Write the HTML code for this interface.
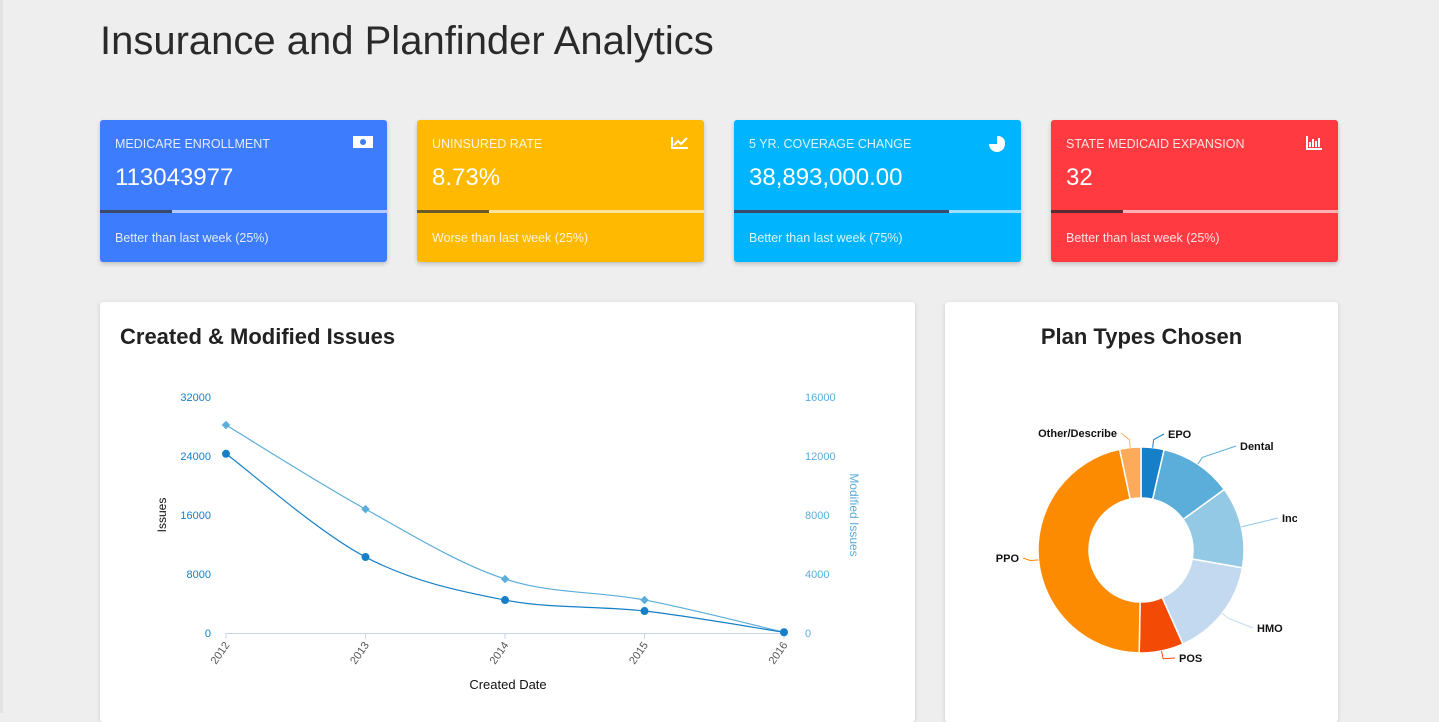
<!DOCTYPE html>
<html><head><meta charset="utf-8">
<style>
*{box-sizing:border-box;margin:0;padding:0}
body{width:1439px;height:713px;overflow:hidden;background:#eeeeee;font-family:"Liberation Sans",sans-serif;position:relative}
.sidebar{position:absolute;left:0;top:0;width:3px;height:713px;background:#e2e2e2}
h1{position:absolute;left:100px;top:19px;font-size:40px;font-weight:normal;color:#2a2a2a;letter-spacing:0px}
.card{position:absolute;top:120px;width:287px;height:142px;border-radius:3px;color:#fff;box-shadow:0 2px 4px rgba(0,0,0,.2)}
.card .lbl{position:absolute;left:15px;top:17px;font-size:12.5px;opacity:.85}
.card .val{position:absolute;left:15px;top:44px;font-size:24px}
.card .bar{position:absolute;left:0;top:90px;width:100%;height:3px;background:rgba(255,255,255,.6)}
.card .bar div{height:3px;background:#3a4a6a}
.card .foot{position:absolute;left:15px;top:111px;font-size:12.5px;opacity:.85}
.card .ic{position:absolute;right:14px;top:16px;width:20px;height:13px;font-size:11px;line-height:13px;text-align:center;color:#fff}
.panel{position:absolute;top:302px;height:420px;background:#fff;border-radius:3px;box-shadow:0 1px 4px rgba(0,0,0,.15)}
.panel h2{position:absolute;top:22px;font-size:22px;font-weight:bold;color:#222}
</style></head><body>
<div class="sidebar"></div>
<h1>Insurance and Planfinder Analytics</h1>

<div class="card" style="left:100px;background:#3d7cfd">
<div class="lbl">MEDICARE ENROLLMENT</div>
<div class="ic"><svg width="20" height="12"><rect x="0" y="0" width="20" height="12" fill="#fff"/><circle cx="10" cy="6" r="3" fill="#3d7cfd"/></svg></div>
<div class="val">113043977</div>
<div class="bar"><div style="width:25%"></div></div>
<div class="foot">Better than last week (25%)</div></div>

<div class="card" style="left:417px;background:#ffba00">
<div class="lbl">UNINSURED RATE</div>
<div class="ic"><svg width="18" height="13"><path d="M1 1V12H17M3 9L7 5L10 8L16 2" stroke="#fff" stroke-width="2" fill="none"/></svg></div>
<div class="val">8.73%</div>
<div class="bar"><div style="width:25%;background:#6b5a2a"></div></div>
<div class="foot">Worse than last week (25%)</div></div>

<div class="card" style="left:734px;background:#00b5fd">
<div class="lbl">5 YR. COVERAGE CHANGE</div>
<div class="ic"><svg width="16" height="16"><path d="M8 8V0A8 8 0 1 1 0 8Z" fill="#fff"/><path d="M9 7V0A7 7 0 0 1 16 7Z" fill="#fff"/></svg></div>
<div class="val">38,893,000.00</div>
<div class="bar"><div style="width:75%"></div></div>
<div class="foot">Better than last week (75%)</div></div>

<div class="card" style="left:1051px;background:#ff3a40">
<div class="lbl">STATE MEDICAID EXPANSION</div>
<div class="ic"><svg width="16" height="14"><path d="M1 0V13H16M4 11V6M7 11V3M10 11V5M13 11V2" stroke="#fff" stroke-width="2" fill="none"/></svg></div>
<div class="val">32</div>
<div class="bar"><div style="width:25%;background:#5a2a33"></div></div>
<div class="foot">Better than last week (25%)</div></div>

<div class="panel" style="left:100px;width:815px">
<h2 style="left:20px">Created &amp; Modified Issues</h2>
</div>
<div class="panel" style="left:945px;width:393px">
<h2 style="left:0;width:393px;text-align:center">Plan Types Chosen</h2>
</div>

<svg id="chart" width="1439" height="713" style="position:absolute;left:0;top:0"></svg>

<script>
const years=["2012","2013","2014","2015","2016"];
const issues=[24300,10300,4470,2980,100];
const modified=[14100,8400,3660,2240,50];
const leftTicks=[0,8000,16000,24000,32000];
const rightTicks=[0,4000,8000,12000,16000];
const planLabels=["EPO","Dental","Inc","HMO","POS","PPO","Other/Describe"];
const planValues=[13,41,46,56,25,167,12];
const planColors=["#1580c8","#5badda","#93c9e4","#c3d9ef","#f34a05","#fd8b02","#fdab5a"];

const NS="http://www.w3.org/2000/svg";
const svg=document.getElementById('chart');
function mk(tag,attrs,parent){const e=document.createElementNS(NS,tag);for(const k in attrs)e.setAttribute(k,attrs[k]);(parent||svg).appendChild(e);return e;}
const x0=226,x1=784,yB=633,yT=397;
const xs=i=>x0+i*(x1-x0)/(years.length-1);
const yl=v=>yB-(v/32000)*(yB-yT);
const yr=v=>yB-(v/16000)*(yB-yT);

let ax=mk('line',{x1:x0,y1:yB+0.5,x2:x1,y2:yB+0.5,stroke:'#c8d4ec','stroke-width':1});


leftTicks.forEach(v=>{let t=mk('text',{x:211,y:yl(v)+4,'text-anchor':'end','font-size':11,fill:'#1580c8','font-family':'Liberation Sans'});t.textContent=v;

});
rightTicks.forEach(v=>{let t=mk('text',{x:805,y:yr(v)+4,'font-size':11,fill:'#5badda','font-family':'Liberation Sans'});t.textContent=v;

});
years.forEach((y,i)=>{mk('line',{x1:xs(i),y1:yB,x2:xs(i),y2:yB+6,stroke:'#c8d4ec'});
let t=mk('text',{x:xs(i)+4,y:yB+12,'text-anchor':'end','font-size':11,fill:'#555','font-family':'Liberation Sans',transform:`rotate(-55 ${xs(i)+4} ${yB+12})`});t.textContent=y;

});
let xt=mk('text',{x:508,y:689,'text-anchor':'middle','font-size':13,fill:'#111','font-family':'Liberation Sans'});xt.textContent='Created Date';


let ylt=mk('text',{x:166,y:515,'text-anchor':'middle','font-size':12,fill:'#111','font-family':'Liberation Sans',transform:'rotate(-90 166 515)'});ylt.textContent='Issues';


let yrt=mk('text',{x:850,y:515,'text-anchor':'middle','font-size':12,fill:'#5badda','font-family':'Liberation Sans',transform:'rotate(90 850 515)'});yrt.textContent='Modified Issues';



function smooth(pts){let d=`M${pts[0][0]},${pts[0][1]}`;for(let i=0;i<pts.length-1;i++){const p0=pts[i-1]||pts[i],p1=pts[i],p2=pts[i+1],p3=pts[i+2]||p2;const c1=[p1[0]+(p2[0]-p0[0])/6,p1[1]+(p2[1]-p0[1])/6],c2=[p2[0]-(p3[0]-p1[0])/6,p2[1]-(p3[1]-p1[1])/6];d+=`C${c1[0]},${c1[1]} ${c2[0]},${c2[1]} ${p2[0]},${p2[1]}`;}return d;}
const mp=modified.map((v,i)=>[xs(i),yr(v)]);
let l2=mk('path',{d:smooth(mp),fill:'none',stroke:'#5badda','stroke-width':1.2});


mp.forEach(p=>{let m=mk('rect',{x:p[0]-3,y:p[1]-3,width:6,height:6,fill:'#5badda',transform:`rotate(45 ${p[0]} ${p[1]})`});

});
const ip=issues.map((v,i)=>[xs(i),yl(v)]);
let l1=mk('path',{d:smooth(ip),fill:'none',stroke:'#1580c8','stroke-width':1.2});


ip.forEach(p=>{let c=mk('circle',{cx:p[0],cy:p[1],r:4,fill:'#1580c8'});

});

// donut
const cx=1141,cy=550,R=103,r=52;
const total=planValues.reduce((a,b)=>a+b,0);
let a=0;
const labelPos={EPO:[1168,438,'start'],Dental:[1240,450,'start'],Inc:[1282,522,'start'],HMO:[1257,632,'start'],POS:[1179,662,'start'],PPO:[1019,562,'end'],"Other/Describe":[1117,437,'end']};
const pt=(ang,rad)=>[cx+rad*Math.sin(ang),cy-rad*Math.cos(ang)];
const clip=mk('clipPath',{id:'pc'});mk('rect',{x:945,y:302,width:352,height:420},clip);
const g=mk('g',{'clip-path':'url(#pc)'});
planValues.forEach((v,i)=>{const s=a,e=a+v/total*2*Math.PI;a=e;
const [ax1,ay1]=pt(s,R),[ax2,ay2]=pt(e,R),[bx2,by2]=pt(e,r),[bx1,by1]=pt(s,r);const lg=e-s>Math.PI?1:0;
let p=mk('path',{d:`M${ax1},${ay1}A${R},${R} 0 ${lg} 1 ${ax2},${ay2}L${bx2},${by2}A${r},${r} 0 ${lg} 0 ${bx1},${by1}Z`,fill:planColors[i],stroke:'#fff','stroke-width':1.5},g);


const m=(s+e)/2;const [ox,oy]=pt(m,R);const [qx,qy]=pt(m,R+8);const lp=labelPos[planLabels[i]];
const lx=lp[2]==='start'?lp[0]-4:lp[0]+4;
mk('path',{d:`M${ox},${oy}L${qx},${qy}L${lx},${lp[1]-4}`,fill:'none',stroke:planColors[i],'stroke-width':1},g);
let t=mk('text',{x:lp[0],y:lp[1],'text-anchor':lp[2],'font-size':11,'font-weight':'bold',fill:'#111','font-family':'Liberation Sans'},g);t.textContent=planLabels[i];

});
</script>
</body></html>
